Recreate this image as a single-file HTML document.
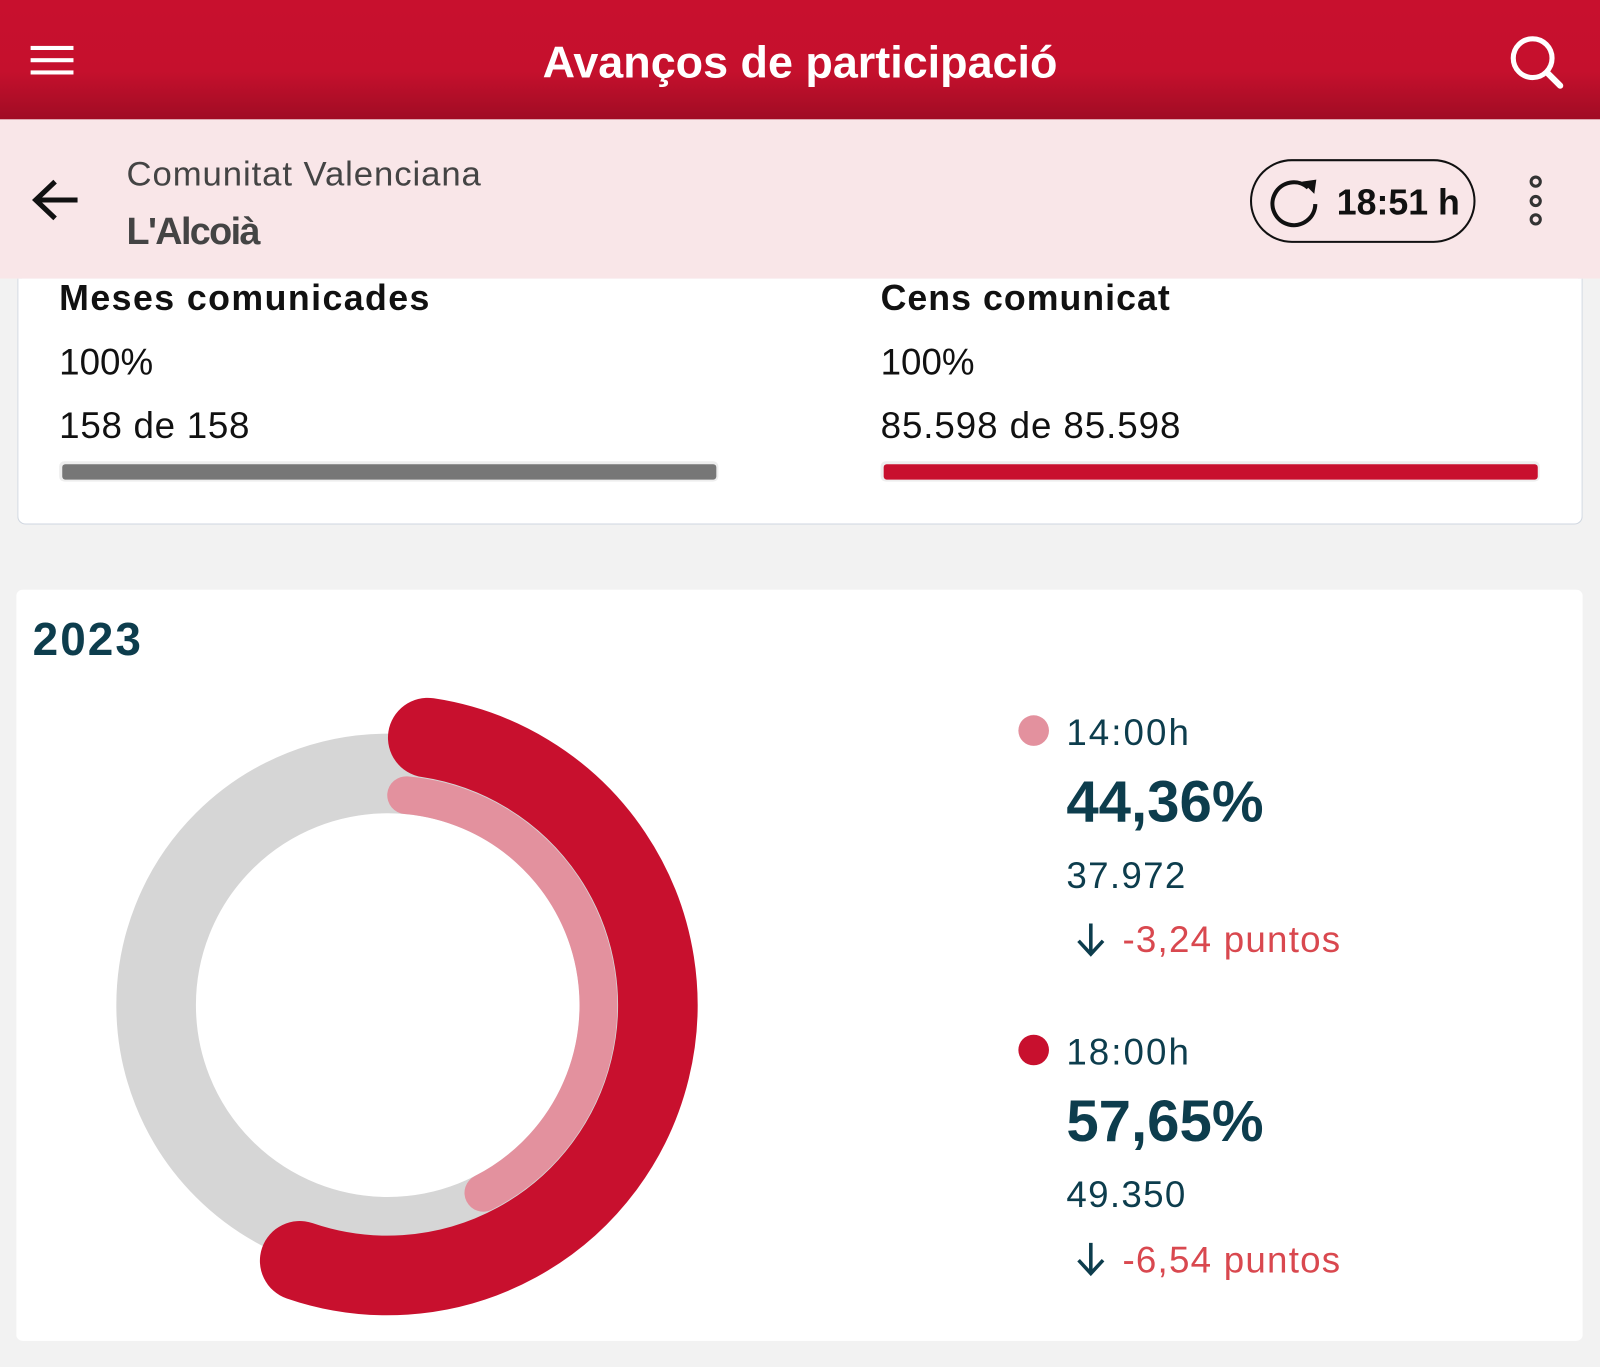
<!DOCTYPE html>
<html><head><meta charset="utf-8"><style>
html,body{margin:0;padding:0;width:1600px;height:1367px;overflow:hidden;background:#f2f2f2;font-family:"Liberation Sans",sans-serif}
#w{position:absolute;left:0;top:0;width:1568px;height:1340px;transform:scale(1.020408);transform-origin:0 0}
.a{position:absolute;white-space:nowrap}
</style></head><body><div id="w">
<div class="a" style="left:0;top:0;width:1568px;height:117px;background:linear-gradient(#c8102e 0%,#c5102d 60%,#a00c24 100%)"></div>
<div class="a" style="left:30px;top:45px;width:42px;height:4px;background:#fff"></div>
<div class="a" style="left:30px;top:57px;width:42px;height:4px;background:#fff"></div>
<div class="a" style="left:30px;top:69px;width:42px;height:4px;background:#fff"></div>
<div class="a" style="left:0;width:1568px;top:34px;text-align:center;color:#fff;font-weight:bold;font-size:44px;line-height:56px">Avanços de participació</div>
<svg class="a" style="left:1476px;top:30px" width="60" height="60"><circle cx="26" cy="27" r="19" fill="none" stroke="#fff" stroke-width="5"/><line x1="40" y1="41" x2="53" y2="54" stroke="#fff" stroke-width="6" stroke-linecap="round"/></svg>
<div class="a" style="left:0;top:117px;width:1568px;height:156px;background:#f9e6e8"></div>
<svg class="a" style="left:30px;top:174px" width="52" height="44"><path d="M46 22H6M24 4L5 22L24 40" fill="none" stroke="#111" stroke-width="5"/></svg>
<div class="a" style="left:124px;top:151px;font-size:34px;line-height:40px;color:#444;letter-spacing:0.9px">Comunitat Valenciana</div>
<div class="a" style="left:124px;top:205px;font-size:37px;line-height:44px;color:#444;font-weight:bold;letter-spacing:-1.6px">L'Alcoià</div>
<div class="a" style="left:1225px;top:156px;width:217px;height:78px;border:2px solid #111;border-radius:41px"></div>
<svg class="a" style="left:1242px;top:170px" width="56" height="56"><path d="M40 14A21 21 0 1 0 47 30" fill="none" stroke="#111" stroke-width="4"/><path d="M34 8L48 6L46 20Z" fill="#111"/></svg>
<div class="a" style="left:1310px;top:178px;font-size:35px;line-height:42px;font-weight:bold;color:#111">18:51 h</div>
<svg class="a" style="left:1495px;top:168px" width="20" height="58"><circle cx="10" cy="10" r="4.5" fill="none" stroke="#333" stroke-width="3"/><circle cx="10" cy="29" r="4.5" fill="none" stroke="#333" stroke-width="3"/><circle cx="10" cy="47" r="4.5" fill="none" stroke="#333" stroke-width="3"/></svg>
<div class="a" style="left:17px;top:273px;width:1532px;height:240px;background:#fff;border:1px solid #cfd6e0;border-top:none;border-radius:0 0 8px 8px"></div>
<div class="a" style="left:58px;top:272px;font-size:35px;line-height:42px;font-weight:bold;color:#111;letter-spacing:1.4px">Meses comunicades</div>
<div class="a" style="left:58px;top:334px;font-size:36px;line-height:42px;color:#111">100%</div>
<div class="a" style="left:58px;top:396px;font-size:36px;line-height:42px;color:#111;letter-spacing:0.7px">158 de 158</div>
<div class="a" style="left:58px;top:452px;width:646px;height:20px;background:#eee;border-radius:5px"></div>
<div class="a" style="left:61px;top:455px;width:641px;height:15px;background:#777;border-radius:3px"></div>
<div class="a" style="left:863px;top:272px;font-size:35px;line-height:42px;font-weight:bold;color:#111;letter-spacing:1px">Cens comunicat</div>
<div class="a" style="left:863px;top:334px;font-size:36px;line-height:42px;color:#111">100%</div>
<div class="a" style="left:863px;top:396px;font-size:36px;line-height:42px;color:#111;letter-spacing:0.9px">85.598 de 85.598</div>
<div class="a" style="left:863px;top:452px;width:646px;height:20px;background:#eee;border-radius:5px"></div>
<div class="a" style="left:866px;top:455px;width:641px;height:15px;background:#c8102e;border-radius:3px"></div>
<div class="a" style="left:16px;top:578px;width:1535px;height:736px;background:#fff;border-radius:6px"></div>
<div class="a" style="left:32px;top:600px;font-size:45px;line-height:54px;font-weight:bold;color:#0d3d4d;letter-spacing:2px">2023</div>
<svg class="a" style="left:0;top:0" width="1568" height="1340">
<circle cx="380" cy="985" r="227" fill="none" stroke="#d6d6d6" stroke-width="78"/>
<path d="M398 779.3A206.5 206.5 0 0 1 473.7 1169" fill="none" stroke="#e3919e" stroke-width="37" stroke-linecap="round"/>
<path d="M419.2 722.9A265 265 0 1 1 293.7 1235.6" fill="none" stroke="#c8102e" stroke-width="78" stroke-linecap="round"/>
<circle cx="1013" cy="716" r="15" fill="#e3919e"/>
<circle cx="1013" cy="1029" r="15" fill="#c8102e"/>
<path d="M1069 905V934M1057 922L1069 935L1081 922" fill="none" stroke="#0d3d4d" stroke-width="3.5"/>
<path d="M1069 1218V1247M1057 1235L1069 1248L1081 1235" fill="none" stroke="#0d3d4d" stroke-width="3.5"/>
</svg>
<div class="a" style="left:1045px;top:697px;font-size:36px;line-height:42px;color:#0d3d4d;letter-spacing:2px">14:00h</div>
<div class="a" style="left:1045px;top:753px;font-size:57px;line-height:66px;font-weight:bold;color:#0d3d4d">44,36%</div>
<div class="a" style="left:1045px;top:837px;font-size:36px;line-height:42px;color:#0d3d4d;letter-spacing:1.3px">37.972</div>
<div class="a" style="left:1100px;top:900px;font-size:36px;line-height:42px;color:#d9484f;letter-spacing:1.2px">-3,24 puntos</div>
<div class="a" style="left:1045px;top:1010px;font-size:36px;line-height:42px;color:#0d3d4d;letter-spacing:2px">18:00h</div>
<div class="a" style="left:1045px;top:1066px;font-size:57px;line-height:66px;font-weight:bold;color:#0d3d4d">57,65%</div>
<div class="a" style="left:1045px;top:1150px;font-size:36px;line-height:42px;color:#0d3d4d;letter-spacing:1.3px">49.350</div>
<div class="a" style="left:1100px;top:1214px;font-size:36px;line-height:42px;color:#d9484f;letter-spacing:1.2px">-6,54 puntos</div>
</div></body></html>
